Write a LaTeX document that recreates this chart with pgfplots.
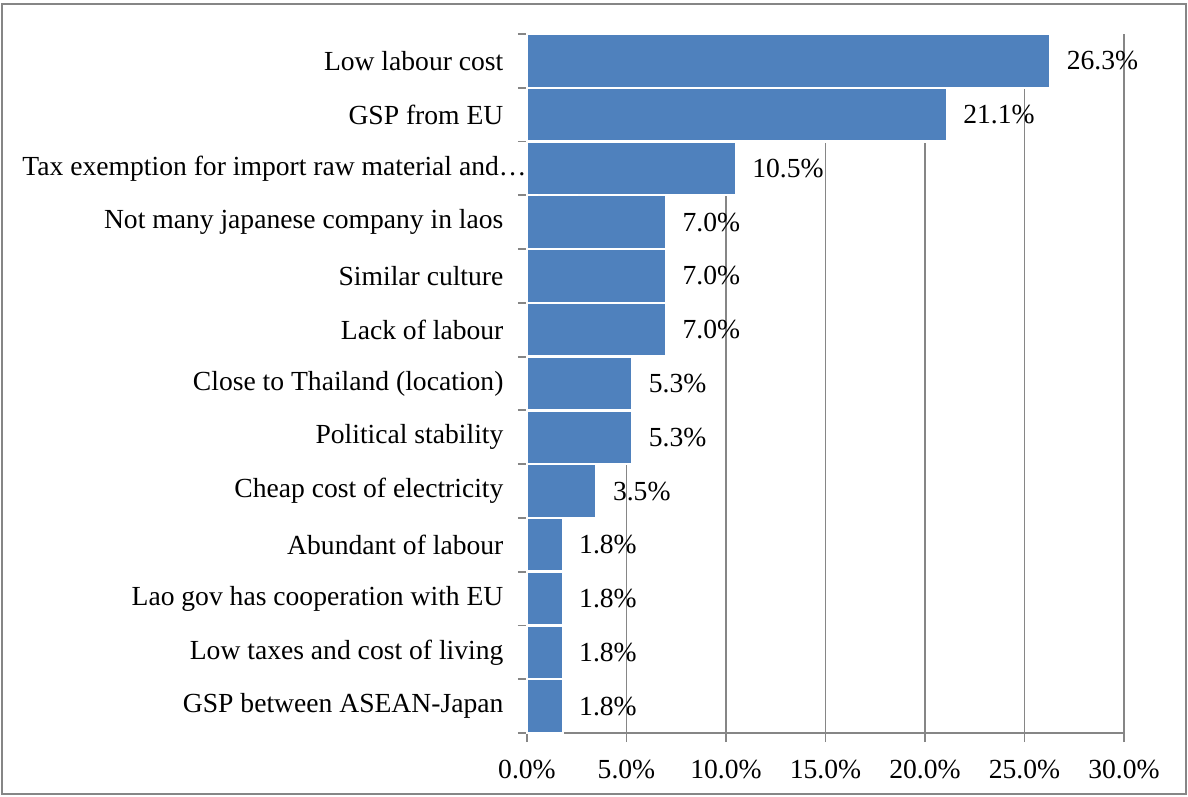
\documentclass[border=0pt]{standalone}
\usepackage{pgfplots}
\pgfplotsset{compat=1.18}
\usepackage{fontspec}
\setmainfont{Liberation Serif}
\definecolor{barblue}{HTML}{4F81BD}
\definecolor{gridgray}{HTML}{868686}
\newcommand{\lblfont}{\fontsize{13.8}{16.5}\selectfont}
\begin{document}
\lblfont
\begin{tikzpicture}
\path[use as bounding box] (-263.5pt,-32pt) rectangle (330.5pt,366.5pt);
\begin{axis}[
  at={(0,0)}, anchor=south west,
  scale only axis, width=298.5pt, height=349.5pt,
  xbar, bar width=1, bar shift=0pt,
  xmin=0, xmax=30, ymin=-0.5, ymax=12.5,
  axis x line*=bottom, axis y line*=left,
  axis line style={gridgray, line width=0.9pt},
  xtick={0,5,10,15,20,25,30},
  xticklabel={\pgfmathprintnumber[fixed,fixed zerofill,precision=1]{\tick}\%},
  /pgf/number format/assume math mode=true,
  xmajorgrids, grid style={gridgray, line width=0.9pt},
  tick align=outside,
  x tick style={gridgray, line width=0.9pt},
  major tick length=4.5pt,
  xticklabel style={font=\lblfont, yshift=-4.5pt},
  ytick={0,...,12},
  y tick style={draw=none},
  yticklabels={GSP between ASEAN-Japan, Low taxes and cost of living, Lao gov has cooperation with EU, Abundant of labour, Cheap cost of electricity, Political stability, Close to Thailand (location), Lack of labour, Similar culture, Not many japanese company in laos, {Tax exemption for import raw material and…\kern-11.5pt}, GSP from EU, Low labour cost},
  yticklabel style={font=\lblfont, xshift=-2.5pt},
  extra y ticks={-0.5,0.5,1.5,2.5,3.5,4.5,5.5,6.5,7.5,8.5,9.5,10.5,11.5,12.5},
  extra y tick labels={},
  extra y tick style={y tick style={draw=gridgray, line width=0.9pt}, major tick length=4.5pt, tick align=outside, ymajorgrids=false},
  clip=false,
  nodes near coords={\pgfmathprintnumber[fixed,fixed zerofill,precision=1]{\pgfplotspointmeta}\%},
  nodes near coords style={anchor=west, xshift=3pt, font=\lblfont, black},
]
\addplot[fill=barblue, draw=white, line width=1.2pt] coordinates {
(1.8,0) (1.8,1) (1.8,2) (1.8,3) (3.5,4) (5.3,5) (5.3,6) (7.0,7) (7.0,8) (7.0,9) (10.5,10) (21.1,11) (26.3,12)
};
\end{axis}
\draw[gridgray, line width=0.8pt] (-262.5pt,-30.5pt) rectangle (329.5pt,364.5pt);
\end{tikzpicture}
\end{document}
